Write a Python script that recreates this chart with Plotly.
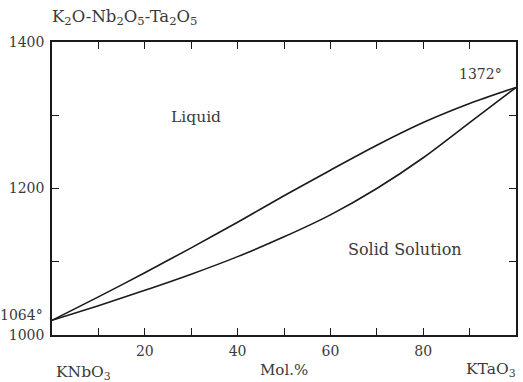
import plotly.graph_objects as go

# Data
mol_pct = [0, 10, 20, 30, 40, 50, 60, 70, 80, 90, 100]
liquidus = [1020, 1052, 1085, 1119, 1154, 1190, 1225, 1259, 1290, 1316, 1338]
solidus = [1020, 1040, 1061, 1083, 1107, 1134, 1164, 1200, 1242, 1290, 1338]

x_tick_vals = [10, 20, 30, 40, 50, 60, 70, 80, 90]
x_tick_text = ["", "20", "", "40", "", "60", "", "80", ""]
y_tick_vals = [1000, 1100, 1200, 1300, 1400]
y_tick_text = ["1000", "", "1200", "", "1400"]

FONT = "DejaVu Serif"
INK = "#1a1a1a"
TXT = "#3a3a3a"
FS = 14

fig = go.Figure()
for ys in (liquidus, solidus):
    fig.add_trace(go.Scatter(x=mol_pct, y=ys, mode="lines",
                             line=dict(color=INK, width=1.6, shape="spline", smoothing=0.8),
                             showlegend=False, hoverinfo="skip"))

axis_common = dict(showline=True, linecolor=INK, linewidth=1.5, mirror="ticks", ticks="inside",
                   ticklen=7, tickwidth=1.2, tickcolor=INK, showgrid=False, zeroline=False,
                   tickfont=dict(family=FONT, size=FS, color=TXT))
fig.update_xaxes(range=[0, 100], tickmode="array", tickvals=x_tick_vals, ticktext=x_tick_text,
                 ticklabelstandoff=2, **axis_common)
fig.update_yaxes(range=[1000, 1400], tickmode="array", tickvals=y_tick_vals, ticktext=y_tick_text,
                 ticklabelstandoff=3, **axis_common)

def ann(text, x, y, xref="x", yref="y", xanchor="center", yanchor="middle", size=FS):
    fig.add_annotation(text=text, x=x, y=y, xref=xref, yref=yref, xanchor=xanchor, yanchor=yanchor,
                       showarrow=False, font=dict(family=FONT, size=size, color=TXT))

ann("Liquid", 31, 1297, size=15.5)
ann("Solid Solution", 76, 1117, size=16)
ann("1372°", 97.5, 1356, xanchor="right")
ann("1064°", -0.015, 1027, xref="paper", xanchor="right")
ann("K<sub>2</sub>O-Nb<sub>2</sub>O<sub>5</sub>-Ta<sub>2</sub>O<sub>5</sub>", -0.005, 1.082, xref="paper", yref="paper",
    xanchor="left", yanchor="middle", size=16.5)
ann("KNbO<sub>3</sub>", 0.005, -0.13, xref="paper", yref="paper", xanchor="left", yanchor="middle", size=15.5)
ann("Mol.%", 0.5, -0.12, xref="paper", yref="paper", yanchor="middle", size=15)
ann("KTaO<sub>3</sub>", 1.004, -0.12, xref="paper", yref="paper", xanchor="right", yanchor="middle", size=15.5)

fig.update_layout(width=523, height=382, margin=dict(l=52, r=5, t=42, b=47),
                  paper_bgcolor="white", plot_bgcolor="white")
fig.write_html("out.html")
